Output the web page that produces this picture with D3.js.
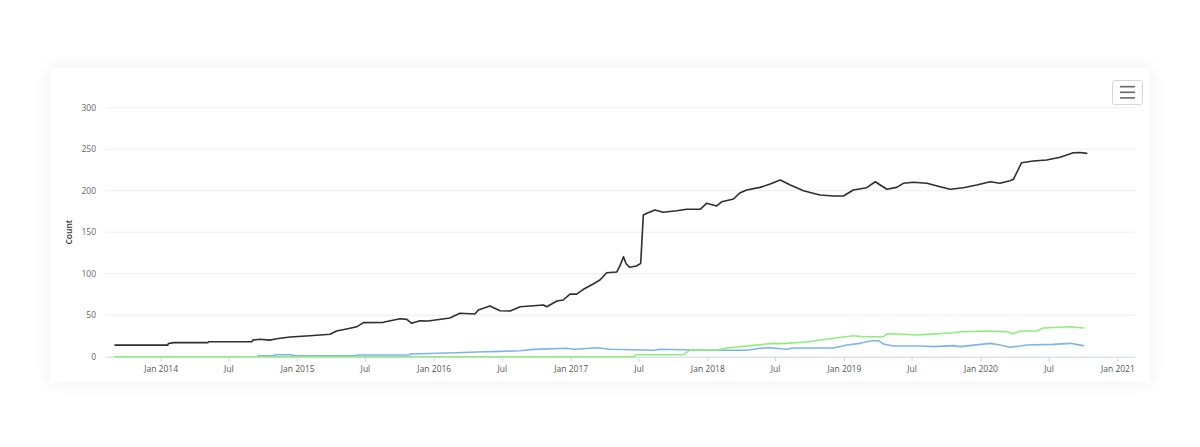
<!DOCTYPE html>
<html>
<head>
<meta charset="utf-8">
<script src="https://cdn.jsdelivr.net/npm/d3@7"></script>
<style>
  html, body { margin: 0; padding: 0; background: #fff; width: 1200px; height: 447px; overflow: hidden; }
  #card { position: absolute; left: 50px; top: 68px; width: 1100px; height: 314px; background: #fff;
          box-shadow: 0 0 18px rgba(0,0,0,0.07); }
  #chart { position: absolute; left: 0; top: 0; }
  text { font-family: "Open Sans", "DejaVu Sans", sans-serif; }
</style>
</head>
<body>
<div id="card"></div>
<div id="chart"></div>
<script>
// series: [date, count]
const totalSeries = [
  ["2013-09-01", 14], ["2014-01-20", 14], ["2014-01-22", 16], ["2014-02-05", 17],
  ["2014-05-07", 17], ["2014-05-09", 18], ["2014-09-02", 18], ["2014-09-04", 20],
  ["2014-09-23", 21], ["2014-10-20", 20], ["2014-11-07", 21.7], ["2014-12-13", 23.7],
  ["2015-02-04", 25.3], ["2015-03-30", 27], ["2015-04-16", 31], ["2015-05-13", 33.4],
  ["2015-06-09", 36], ["2015-06-27", 41], ["2015-08-19", 41.4], ["2015-10-03", 45.8],
  ["2015-10-21", 45], ["2015-11-03", 40.2], ["2015-11-25", 43.4], ["2015-12-17", 43],
  ["2016-02-13", 46.6], ["2016-03-11", 52.3], ["2016-04-20", 51.4], ["2016-04-29", 56.3],
  ["2016-05-30", 61.1], ["2016-06-26", 55.4], ["2016-07-23", 55], ["2016-08-19", 60.2],
  ["2016-10-20", 62.3], ["2016-10-29", 60.2], ["2016-11-25", 67.1], ["2016-12-12", 68.3],
  ["2016-12-30", 75.5], ["2017-01-17", 75.4], ["2017-02-04", 81.2], ["2017-03-02", 87.6],
  ["2017-03-20", 92.4], ["2017-04-07", 101.2], ["2017-05-04", 102], ["2017-05-13", 110],
  ["2017-05-22", 120.5], ["2017-05-29", 112], ["2017-06-07", 107.7], ["2017-06-26", 109.3],
  ["2017-07-07", 112.5], ["2017-07-14", 170.7], ["2017-07-27", 173.5], ["2017-08-14", 176.7],
  ["2017-09-05", 174], ["2017-10-11", 175.9], ["2017-11-07", 177.6], ["2017-12-13", 177.6],
  ["2017-12-30", 184.8], ["2018-01-26", 181.6], ["2018-02-09", 186.7], ["2018-03-12", 190],
  ["2018-03-30", 197.6], ["2018-04-16", 200.8], ["2018-05-22", 204], ["2018-06-18", 208],
  ["2018-07-15", 212.9], ["2018-08-11", 206.9], ["2018-09-15", 200], ["2018-10-29", 194.8],
  ["2018-12-04", 193.6], ["2018-12-31", 193.6], ["2019-01-26", 200.8], ["2019-03-03", 203.6],
  ["2019-03-26", 210.8], ["2019-04-08", 206.9], ["2019-04-26", 201.7], ["2019-05-22", 204],
  ["2019-06-09", 208.9], ["2019-07-06", 210.1], ["2019-08-11", 208.9], ["2019-09-15", 204.8],
  ["2019-10-12", 201.7], ["2019-11-16", 203.6], ["2019-12-22", 206.9], ["2020-01-27", 210.8],
  ["2020-02-22", 208.9], ["2020-03-20", 212], ["2020-03-29", 213.7], ["2020-04-20", 233.7],
  ["2020-05-21", 235.8], ["2020-06-26", 237], ["2020-08-01", 240.2], ["2020-09-05", 245.8],
  ["2020-09-23", 246], ["2020-10-11", 245]
];

const blueSeries = [
  ["2014-09-19", 1], ["2014-10-25", 1], ["2014-11-07", 2.4], ["2014-12-13", 2.4],
  ["2014-12-29", 1], ["2015-06-08", 1], ["2015-06-10", 2], ["2015-10-28", 2],
  ["2015-10-30", 3.2], ["2016-03-02", 4.8], ["2016-04-25", 5.6], ["2016-06-26", 6.4],
  ["2016-08-19", 7.2], ["2016-09-23", 8.8], ["2016-12-21", 10.1], ["2017-01-12", 8.9],
  ["2017-03-11", 10.8], ["2017-04-16", 8.9], ["2017-08-10", 7.7], ["2017-08-28", 8.9],
  ["2017-12-30", 7.7], ["2018-04-16", 7.7], ["2018-05-22", 10.1], ["2018-06-18", 10.8],
  ["2018-08-01", 8.9], ["2018-08-19", 10.5], ["2018-12-04", 10.5], ["2019-01-09", 14.1],
  ["2019-02-13", 16.1], ["2019-03-16", 19.3], ["2019-04-03", 19.3], ["2019-04-17", 15.3],
  ["2019-05-14", 12.9], ["2019-07-24", 12.9], ["2019-08-28", 12.1], ["2019-10-20", 13.3],
  ["2019-11-08", 12.1], ["2020-01-27", 16.1], ["2020-02-22", 14.1], ["2020-03-20", 11.3],
  ["2020-05-04", 14.1], ["2020-07-14", 14.9], ["2020-08-28", 16.1], ["2020-10-02", 13.3]
];

const greenSeries = [
  ["2013-09-01", 0], ["2017-06-21", 0], ["2017-06-23", 2.4], ["2017-10-29", 2.4],
  ["2017-11-16", 8], ["2018-01-26", 8], ["2018-02-22", 10.5], ["2018-05-04", 13.7],
  ["2018-06-26", 16.1], ["2018-07-15", 15.7], ["2018-09-24", 17.7], ["2018-10-29", 20.1],
  ["2019-01-26", 25.3], ["2019-02-22", 24.1], ["2019-04-17", 24.1], ["2019-04-26", 27.7],
  ["2019-05-31", 27.3], ["2019-07-06", 26.1], ["2019-08-11", 26.9], ["2019-10-21", 28.9],
  ["2019-11-08", 30.1], ["2020-01-18", 31], ["2020-03-11", 30.1], ["2020-03-29", 27.7],
  ["2020-04-16", 31], ["2020-05-30", 31], ["2020-06-17", 34.6], ["2020-08-28", 36.1],
  ["2020-10-02", 34.6]
];

const xDomain = ["2013-08-08", "2021-02-17"];
const xTickDates = ["2014-01-01", "2014-07-01", "2015-01-01", "2015-07-01", "2016-01-01",
  "2016-07-01", "2017-01-01", "2017-07-01", "2018-01-01", "2018-07-01", "2019-01-01",
  "2019-07-01", "2020-01-01", "2020-07-01", "2021-01-01"];
const xTickLabels = ["Jan 2014", "Jul", "Jan 2015", "Jul", "Jan 2016", "Jul", "Jan 2017", "Jul",
  "Jan 2018", "Jul", "Jan 2019", "Jul", "Jan 2020", "Jul", "Jan 2021"];
const yTicks = [0, 50, 100, 150, 200, 250, 300];
const yTitle = "Count";

const parse = d3.timeParse("%Y-%m-%d");

const svg = d3.select("#chart").append("svg")
    .attr("width", 1200)
    .attr("height", 447);

const x = d3.scaleTime()
    .domain(xDomain.map(parse))
    .range([106, 1135]);

const y = d3.scaleLinear()
    .domain([0, 300])
    .range([356.7, 107.7]);

// grid
svg.append("g")
    .selectAll("line")
    .data(yTicks.filter(d => d > 0))
    .enter().append("line")
    .attr("x1", 106).attr("x2", 1135)
    .attr("y1", d => y(d)).attr("y2", d => y(d))
    .attr("stroke", "#eeeeee")
    .attr("stroke-width", 1);

// y axis labels
const yAxis = svg.append("g")
    .attr("transform", "translate(96,0)")
    .call(d3.axisLeft(y).tickValues(yTicks).tickSize(0).tickPadding(0));
yAxis.select(".domain").remove();
yAxis.selectAll("text")
    .attr("fill", "#666")
    .attr("font-size", "8.5px")
    .attr("font-family", "'Open Sans', sans-serif");

svg.append("text")
    .attr("transform", `translate(72,${(y(0) + y(300)) / 2}) rotate(-90)`)
    .attr("text-anchor", "middle")
    .attr("fill", "#2b3340")
    .attr("font-size", "8.5px")
    .attr("font-weight", "600")
    .text(yTitle);

// x axis
const tickMap = new Map(xTickDates.map((d, i) => [+parse(d), xTickLabels[i]]));
const xAxis = svg.append("g")
    .attr("transform", `translate(0,${y(0)})`)
    .call(d3.axisBottom(x)
      .tickValues(xTickDates.map(parse))
      .tickSize(5)
      .tickPadding(4)
      .tickFormat(d => tickMap.get(+d)));
xAxis.select(".domain").attr("stroke", "#ccd6eb").attr("d", "M106,0.5H1135");
xAxis.selectAll(".tick line").attr("stroke", "#ccd6eb");
xAxis.selectAll("text")
    .attr("fill", "#555")
    .attr("font-size", "8.5px")
    .attr("font-family", "'Open Sans', sans-serif");

const line = d3.line()
    .x(d => x(parse(d[0])))
    .y(d => y(d[1]));

const series = [
  { data: blueSeries, color: "#7cb5ec" },
  { data: totalSeries, color: "#2e2e33" },
  { data: greenSeries, color: "#90ed7d" }
];

svg.append("g")
    .selectAll("path")
    .data(series)
    .enter().append("path")
    .attr("d", d => line(d.data))
    .attr("fill", "none")
    .attr("stroke", d => d.color)
    .attr("stroke-width", 1.6)
    .attr("stroke-linejoin", "round")
    .attr("stroke-linecap", "round");

// context menu button
const btn = svg.append("g");
btn.append("rect")
    .attr("x", 1112.5).attr("y", 80.5)
    .attr("width", 30).attr("height", 24)
    .attr("rx", 2).attr("ry", 2)
    .attr("fill", "#fff")
    .attr("stroke", "#d8d8d8");
btn.selectAll("line.bar")
    .data([86.7, 92.3, 97.9])
    .enter().append("line")
    .attr("x1", 1120).attr("x2", 1135)
    .attr("y1", d => d).attr("y2", d => d)
    .attr("stroke", "#666")
    .attr("stroke-width", 1.6);
</script>
</body>
</html>
